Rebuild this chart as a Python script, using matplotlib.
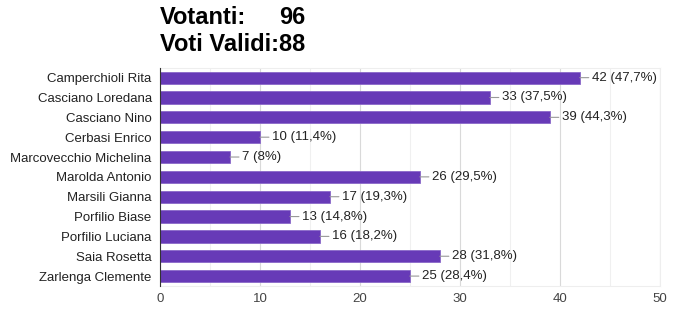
import matplotlib
matplotlib.use('Agg')
import matplotlib.pyplot as plt
import numpy as np

candidati = ['Camperchioli Rita', 'Casciano Loredana', 'Casciano Nino', 'Cerbasi Enrico',
             'Marcovecchio Michelina', 'Marolda Antonio', 'Marsili Gianna', 'Porfilio Biase',
             'Porfilio Luciana', 'Saia Rosetta', 'Zarlenga Clemente']
voti = [42, 33, 39, 10, 7, 26, 17, 13, 16, 28, 25]
percentuali = ['47,7%', '37,5%', '44,3%', '11,4%', '8%', '29,5%', '19,3%', '14,8%',
               '18,2%', '31,8%', '28,4%']
votanti = 96
voti_validi = 88

plt.rcParams['font.family'] = ['Liberation Sans', 'DejaVu Sans']

fig = plt.figure(figsize=(6.78, 3.21), dpi=100)
ax = fig.add_axes([0.236, 0.109, 0.737, 0.68])

y = np.arange(len(candidati))
ax.barh(y, voti, height=0.62, color='#673ab7', edgecolor='#8a68c9', linewidth=0.6, zorder=3)

# etichetta con linea di richiamo dalla fine della barra
for yi, v, p in zip(y, voti, percentuali):
    ax.annotate('{} ({})'.format(v, p), xy=(v, yi), xytext=(8.5, 0),
                textcoords='offset points', ha='left', va='center',
                fontsize=9.5, color='#222222',
                arrowprops=dict(arrowstyle='-', color='#999999', lw=0.8,
                                shrinkA=0, shrinkB=0))

ax.set_xlim(0, 50)
ax.set_ylim(len(candidati) - 0.5, -0.5)
ax.set_yticks(y)
ax.set_yticklabels(candidati, fontsize=9.5, color='#222222')
ax.set_xticks(np.arange(0, 51, 10))
ax.set_xticks(np.arange(0, 51, 5), minor=True)
ax.tick_params(axis='x', labelsize=9.5, labelcolor='#444444', length=0, pad=5, which='both')
ax.tick_params(axis='y', length=0, pad=6)
ax.grid(axis='x', which='major', color='#d9d9d9', lw=0.8, zorder=0)
ax.grid(axis='x', which='minor', color='#f0f0f0', lw=0.8, zorder=0)

for side in ['top', 'right', 'bottom']:
    ax.spines[side].set_color('#eeeeee')
ax.spines['left'].set_color('#333333')
ax.spines['left'].set_zorder(4)

# intestazione con votanti e voti validi
fig.text(0.236, 0.945, 'Votanti:', fontsize=17, fontweight='bold', va='center')
fig.text(0.45, 0.945, str(votanti), fontsize=17, fontweight='bold', va='center', ha='right')
fig.text(0.236, 0.86, 'Voti Validi:' + str(voti_validi), fontsize=17, fontweight='bold', va='center')

plt.savefig('out.png', dpi=100)
